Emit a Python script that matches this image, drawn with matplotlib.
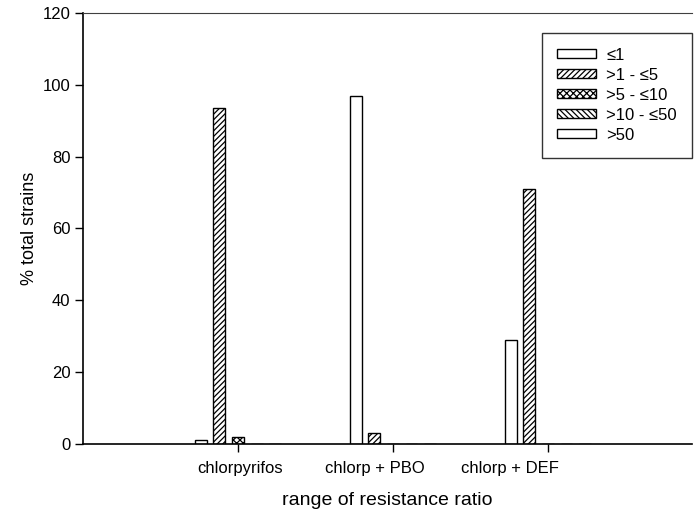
import numpy as np
import matplotlib
matplotlib.use("Agg")
import matplotlib.pyplot as plt

plt.rcParams['font.family'] = ['Liberation Sans', 'DejaVu Sans']
plt.rcParams['hatch.linewidth'] = 0.9

treatments = ['chlorpyrifos', 'chlorp + PBO', 'chlorp + DEF']
ratio_ranges = ['≤1', '>1 - ≤5', '>5 - ≤10', '>10 - ≤50', '>50']
pct_le1 = [1, 97, 29]
pct_1_5 = [93.5, 3, 71]
pct_5_10 = [2, 0, 0]
pct_10_50 = [0, 0, 0]
pct_gt50 = [0, 0, 0]

series = [pct_le1, pct_1_5, pct_5_10, pct_10_50, pct_gt50]
hatches = ['', '//////', 'xxxxx', '\\\\\\\\\\\\', '-']

fig = plt.figure(figsize=(6.95, 5.2), dpi=100)
ax = fig.add_axes([0.1194, 0.1462, 0.8763, 0.8288])

x = np.arange(len(treatments))
step = 0.12
width = 0.077
for k, (vals, hatch, name) in enumerate(zip(series, hatches, ratio_ranges)):
    ax.bar(x + (k - 2) * step, vals, width, color='white', edgecolor='black',
           linewidth=1.0, hatch=hatch, label=name)

ax.set_xlim(-1.0, 2.93)
ax.set_ylim(0, 120)
ax.set_yticks(np.arange(0, 121, 20))
ax.tick_params(axis='y', direction='out', length=6, width=1, labelsize=12, pad=3)

# tick marks at group centres, labels drawn slightly left (as in the original)
ax.set_xticks(x, minor=True)
ax.set_xticks(x * 0.87 + 0.013)
ax.set_xticklabels(treatments)
ax.tick_params(axis='x', which='major', length=0, labelsize=12, pad=12)
ax.tick_params(axis='x', which='minor', direction='out', length=6, width=1)

ax.spines['right'].set_visible(False)
ax.spines['top'].set_linewidth(0.8)
ax.spines['top'].set_color('0.25')
ax.spines['left'].set_linewidth(1.2)
ax.spines['bottom'].set_linewidth(1.2)

ax.set_ylabel('% total strains', fontsize=13)
ax.yaxis.set_label_coords(-0.074, 0.5)
ax.set_xlabel('range of resistance ratio', fontsize=14, labelpad=12)

leg = ax.legend(loc='upper right', bbox_to_anchor=(1.0, 0.954), fontsize=12,
                handlelength=2.3, handleheight=0.45, labelspacing=0.3,
                borderpad=0.9, handletextpad=0.65, borderaxespad=0,
                frameon=True, fancybox=False)
leg.get_frame().set_edgecolor('black')
leg.get_frame().set_linewidth(1.0)

fig.savefig('out.png', dpi=100)
